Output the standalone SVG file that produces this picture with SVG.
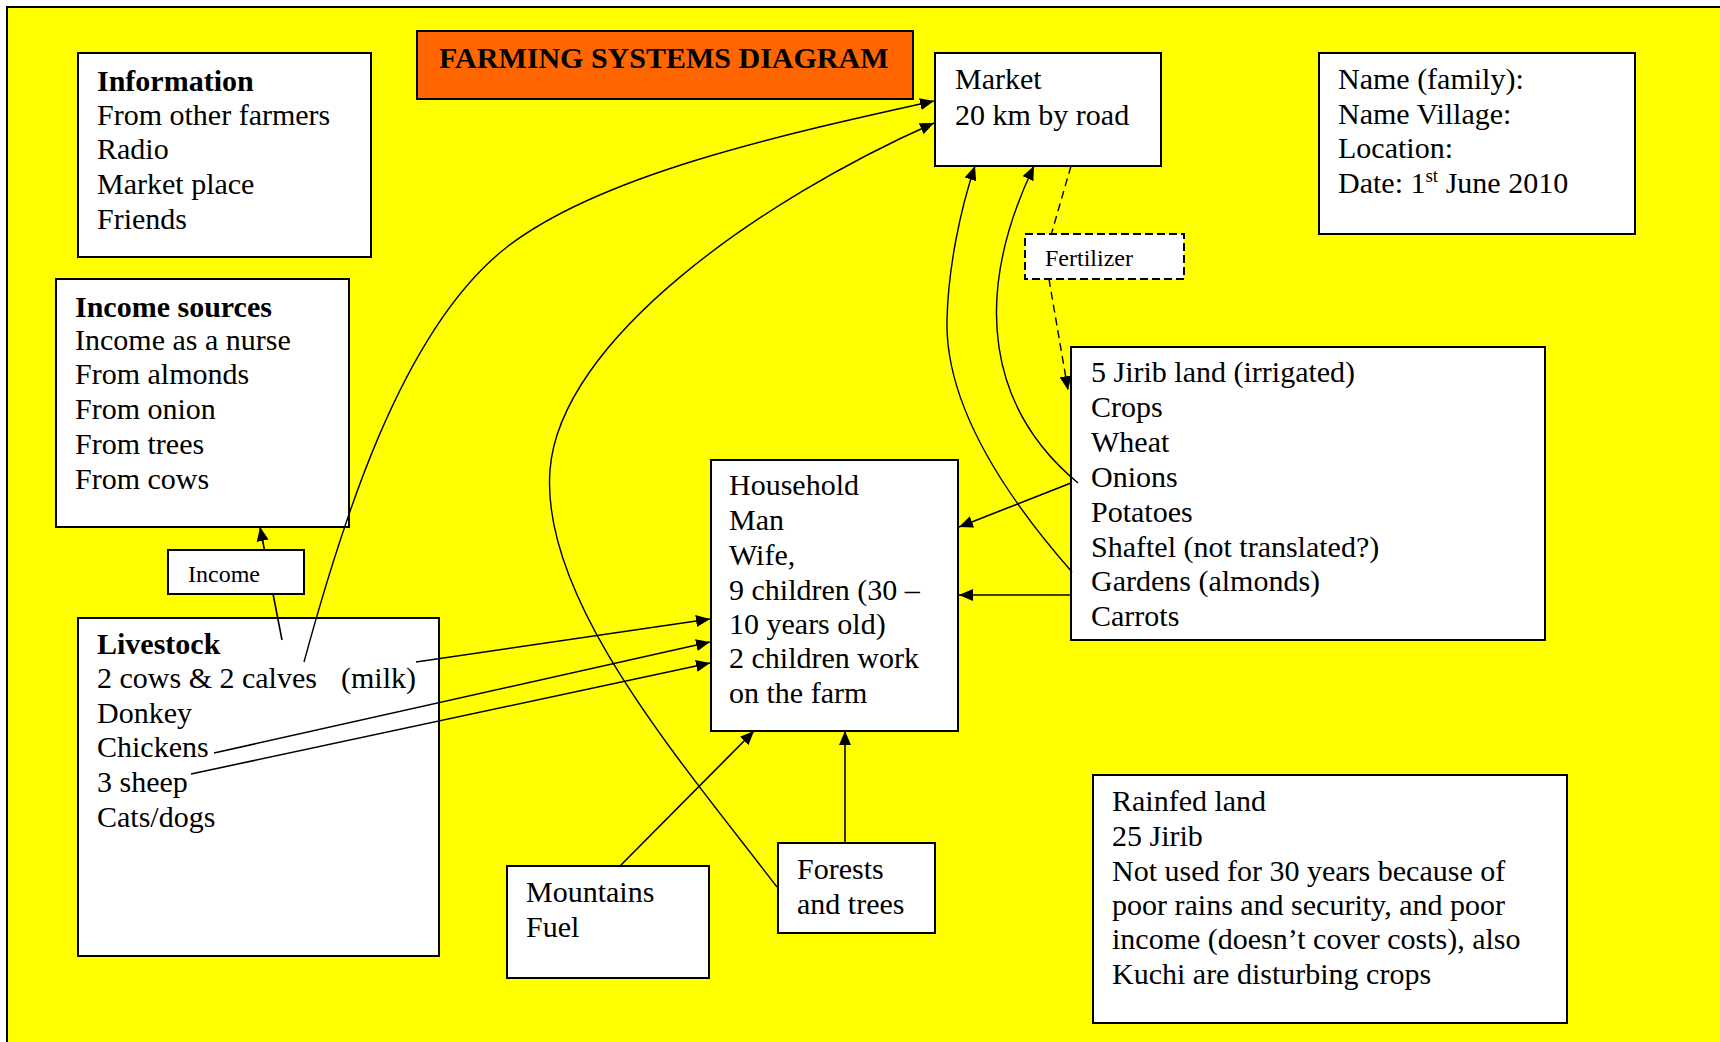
<svg xmlns="http://www.w3.org/2000/svg" width="1720" height="1042" viewBox="0 0 1720 1042">
  <defs>
    <style>
      .box { fill: #ffffff; stroke: #000000; stroke-width: 2; }
      .dash { stroke-dasharray: 8 4; }
      .t { font-family: "Liberation Serif", "Times New Roman", serif; font-size: 30px; fill: #000000; }
      .s { font-size: 24px; }
      .b { font-weight: bold; }
      .c { fill: none; stroke: #000000; stroke-width: 1.6; marker-end: url(#arrow); }
      .thin { stroke-width: 1.4; }
      .dl { stroke-dasharray: 8 5; stroke-width: 1.4; }
    </style>
    <marker id="arrow" viewBox="0 0 14 12" refX="14" refY="6" markerWidth="14" markerHeight="12" markerUnits="userSpaceOnUse" orient="auto">
      <path d="M0,0 L14,6 L0,12 z" fill="#000000"/>
    </marker>
  </defs>

  <!-- page background and yellow frame -->
  <rect x="0" y="0" width="1720" height="1042" fill="#ffffff"/>
  <rect x="7" y="7" width="1740" height="1060" fill="#ffff00" stroke="#000000" stroke-width="2"/>

  <!-- title -->
  <g id="title">
    <rect class="box" x="417" y="31" width="496" height="68" fill="#ff6600" style="fill:#ff6600"/>
    <text class="t b" x="439" y="68">FARMING SYSTEMS DIAGRAM</text>
  </g>

  <g id="information">
    <rect class="box" x="78" y="53" width="293" height="204"/>
    <text class="t">
      <tspan class="b" x="97" y="91">Information</tspan>
      <tspan x="97" y="125">From other farmers</tspan>
      <tspan x="97" y="159">Radio</tspan>
      <tspan x="97" y="194">Market place</tspan>
      <tspan x="97" y="229">Friends</tspan>
    </text>
  </g>

  <g id="market">
    <rect class="box" x="935" y="53" width="226" height="113"/>
    <text class="t">
      <tspan x="955" y="89">Market</tspan>
      <tspan x="955" y="125">20 km by road</tspan>
    </text>
  </g>

  <g id="farm-details">
    <rect class="box" x="1319" y="53" width="316" height="181"/>
    <text class="t">
      <tspan x="1338" y="89">Name (family):</tspan>
      <tspan x="1338" y="124">Name Village:</tspan>
      <tspan x="1338" y="158">Location:</tspan>
      <tspan x="1338" y="193">Date: 1<tspan font-size="19" dy="-11">st</tspan><tspan dy="11"> June 2010</tspan></tspan>
    </text>
  </g>

  <g id="income-sources">
    <rect class="box" x="56" y="279" width="293" height="248"/>
    <text class="t">
      <tspan class="b" x="75" y="317">Income sources</tspan>
      <tspan x="75" y="350">Income as a nurse</tspan>
      <tspan x="75" y="384">From almonds</tspan>
      <tspan x="75" y="419">From onion</tspan>
      <tspan x="75" y="454">From trees</tspan>
      <tspan x="75" y="489">From cows</tspan>
    </text>
  </g>

  <g id="livestock">
    <rect class="box" x="78" y="618" width="361" height="338"/>
    <text class="t">
      <tspan class="b" x="97" y="654">Livestock</tspan>
      <tspan x="97" y="688">2 cows &amp; 2 calves</tspan><tspan x="341" y="688">(milk)</tspan>
      <tspan x="97" y="723">Donkey</tspan>
      <tspan x="97" y="757">Chickens</tspan>
      <tspan x="97" y="792">3 sheep</tspan>
      <tspan x="97" y="827">Cats/dogs</tspan>
    </text>
  </g>

  <g id="household">
    <rect class="box" x="711" y="460" width="247" height="271"/>
    <text class="t">
      <tspan x="729" y="495">Household</tspan>
      <tspan x="729" y="530">Man</tspan>
      <tspan x="729" y="565">Wife,</tspan>
      <tspan x="729" y="600">9 children (30 –</tspan>
      <tspan x="729" y="634">10 years old)</tspan>
      <tspan x="729" y="668">2 children work</tspan>
      <tspan x="729" y="703">on the farm</tspan>
    </text>
  </g>

  <g id="irrigated-land">
    <rect class="box" x="1071" y="347" width="474" height="293"/>
    <text class="t">
      <tspan x="1091" y="382">5 Jirib land (irrigated)</tspan>
      <tspan x="1091" y="417">Crops</tspan>
      <tspan x="1091" y="452">Wheat</tspan>
      <tspan x="1091" y="487">Onions</tspan>
      <tspan x="1091" y="522">Potatoes</tspan>
      <tspan x="1091" y="557">Shaftel (not translated?)</tspan>
      <tspan x="1091" y="591">Gardens (almonds)</tspan>
      <tspan x="1091" y="626">Carrots</tspan>
    </text>
  </g>

  <g id="mountains">
    <rect class="box" x="507" y="866" width="202" height="112"/>
    <text class="t">
      <tspan x="526" y="902">Mountains</tspan>
      <tspan x="526" y="937">Fuel</tspan>
    </text>
  </g>

  <g id="forests">
    <rect class="box" x="778" y="843" width="157" height="90"/>
    <text class="t">
      <tspan x="797" y="879">Forests</tspan>
      <tspan x="797" y="914">and trees</tspan>
    </text>
  </g>

  <g id="rainfed-land">
    <rect class="box" x="1093" y="775" width="474" height="248"/>
    <text class="t">
      <tspan x="1112" y="811">Rainfed land</tspan>
      <tspan x="1112" y="846">25 Jirib</tspan>
      <tspan x="1112" y="881">Not used for 30 years because of</tspan>
      <tspan x="1112" y="915">poor rains and security, and poor</tspan>
      <tspan x="1112" y="949">income (doesn’t cover costs), also</tspan>
      <tspan x="1112" y="984">Kuchi are disturbing crops</tspan>
    </text>
  </g>

  <!-- flows between the parts of the farm -->
  <g id="connectors">
    <!-- livestock to market -->
    <path class="c thin" d="M304,662 C340,530 400,330 507,247 C600,175 780,135 934,101"/>
    <!-- forests to market -->
    <path class="c thin" d="M777,887 C680,760 540,600 550,470 C560,340 760,200 934,123"/>
    <!-- gardens to market -->
    <path class="c thin" d="M1072,572 C1000,490 945,400 947,320 C948,270 960,210 975,166"/>
    <!-- onions to market -->
    <path class="c thin" d="M1078,483 C990,410 970,300 1034,166"/>
    <!-- market fertilizer to irrigated land -->
    <path class="c dl" d="M1071,166 L1045,256 L1068,390"/>
    <!-- irrigated land to household -->
    <path class="c" d="M1071,483 L959,527"/>
    <path class="c" d="M1071,595 L959,595"/>
    <!-- livestock to household -->
    <path class="c" d="M416,662 L710,619"/>
    <path class="c" d="M214,753 L710,642"/>
    <path class="c" d="M191,774 L710,663"/>
    <!-- mountains and forests to household -->
    <path class="c" d="M620,866 L754,731"/>
    <path class="c" d="M845,843 L845,731"/>
    <!-- livestock income -->
    <path class="c" d="M282,640 L260,527"/>
  </g>

  <!-- connector labels -->
  <g id="income-label">
    <rect class="box" x="168" y="550" width="136" height="44"/>
    <text class="t s" x="188" y="582">Income</text>
  </g>
  <g id="fertilizer-label">
    <rect class="box dash" x="1025" y="234" width="159" height="45"/>
    <text class="t s" x="1045" y="266">Fertilizer</text>
  </g>
</svg>
